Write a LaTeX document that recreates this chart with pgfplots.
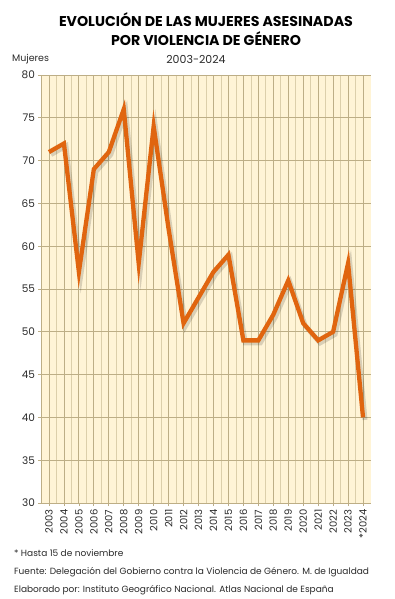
\documentclass[border=0pt]{standalone}
\usepackage{pgfplots}
\pgfplotsset{compat=1.18}
\usepackage{fontspec}
\setmainfont{Poppins}
\definecolor{bgc}{HTML}{FFF4D6}
\definecolor{gmaj}{HTML}{BDAE86}
\definecolor{gmin}{HTML}{DCCFAA}
\definecolor{linec}{HTML}{E0650F}
\definecolor{txt}{HTML}{2A2A2A}
\begin{document}
\begin{tikzpicture}[x=1pt,y=1pt]
\useasboundingbox (0,0) rectangle (395,-599);
\begin{axis}[
  at={(41.5pt,-503pt)}, anchor=south west,
  scale only axis, width=329pt, height=428pt,
  xmin=-0.5, xmax=21.5, ymin=30, ymax=80,
  axis background/.style={fill=bgc},
  ytick={30,35,...,80},
  xtick={0,...,21},
  xticklabels={2003,2004,2005,2006,2007,2008,2009,2010,2011,2012,2013,2014,2015,2016,2017,2018,2019,2020,2021,2022,2023,*2024},
  x tick label style={rotate=90, anchor=east, font=\fontsize{10}{10}\selectfont, text=txt},
  y tick label style={font=\fontsize{10.5}{10}\selectfont, text=txt},
  /pgf/number format/assume math mode=true,
  minor x tick num=1,
  xmajorgrids, ymajorgrids, xminorgrids,
  major grid style={gmaj, line width=0.8pt},
  minor grid style={gmin, line width=0.7pt},
  tick style={gmaj, line width=0.7pt},
  major tick length=3pt, minor tick length=0pt,
  tick align=outside,
  xtick pos=bottom, ytick pos=left,
  axis line style={gmaj, line width=0.8pt},
  axis x line*=bottom, axis y line*=left,
  clip=false,
]
\addplot[black, opacity=0.15, line width=5pt, line join=miter, xshift=2pt, yshift=-2.5pt] coordinates {
(0,71)(1,72)(2,57)(3,69)(4,71)(5,76)(6,58)(7,74)(8,62)(9,51)(10,54)(11,57)(12,59)(13,49)(14,49)(15,52)(16,56)(17,51)(18,49)(19,50)(20,58)(21,40)};
\addplot[linec, line width=4.3pt, line join=miter] coordinates {
(0,71)(1,72)(2,57)(3,69)(4,71)(5,76)(6,58)(7,74)(8,62)(9,51)(10,54)(11,57)(12,59)(13,49)(14,49)(15,52)(16,56)(17,51)(18,49)(19,50)(20,58)(21,40)};
\end{axis}
\node[font=\fontsize{14.2}{14}\selectfont\bfseries, text=black] at (206,-20) {EVOLUCIÓN DE LAS MUJERES ASESINADAS};
\node[font=\fontsize{14.2}{14}\selectfont\bfseries, text=black] at (206,-39) {POR VIOLENCIA DE GÉNERO};
\node[font=\fontsize{11}{11}\selectfont, text=txt] at (196,-59) {2003-2024};
\node[font=\fontsize{9.5}{10}\selectfont, text=txt, anchor=west, inner sep=0pt] at (12,-59) {Mujeres};
\node[font=\fontsize{9}{10}\selectfont, text=txt, anchor=west, inner sep=0pt] at (14,-553) {* Hasta 15 de noviembre};
\node[font=\fontsize{9}{10}\selectfont, text=txt, anchor=west, inner sep=0pt] at (14,-572) {Fuente: Delegación del Gobierno contra la Violencia de Género. M. de Igualdad};
\node[font=\fontsize{9}{10}\selectfont, text=txt, anchor=west, inner sep=0pt] at (14,-590) {Elaborado por: Instituto Geográfico Nacional. Atlas Nacional de España};
\end{tikzpicture}
\end{document}
